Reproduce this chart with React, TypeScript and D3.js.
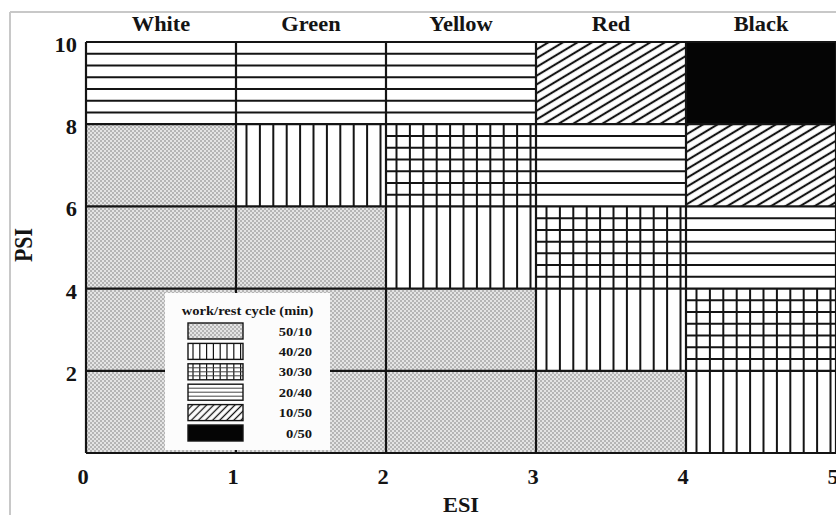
import React from "react";
import * as d3 from "d3";

// ---- data ----
const esiCategories = ["White", "Green", "Yellow", "Red", "Black"];
const xTicks = [0, 1, 2, 3, 4, 5];
const yTicks = [2, 4, 6, 8, 10];
const psiBandLow = [8, 6, 4, 2, 0];
const band8to10 = ["20/40", "20/40", "20/40", "10/50", "0/50"];
const band6to8 = ["50/10", "40/20", "30/30", "20/40", "10/50"];
const band4to6 = ["50/10", "50/10", "40/20", "30/30", "20/40"];
const band2to4 = ["50/10", "50/10", "50/10", "40/20", "30/30"];
const band0to2 = ["50/10", "50/10", "50/10", "50/10", "40/20"];
const bandCycles = [band8to10, band6to8, band4to6, band2to4, band0to2];
const cycleLabels = ["50/10", "40/20", "30/30", "20/40", "10/50", "0/50"];
const legendTitle = "work/rest cycle (min)";
const xTitle = "ESI";
const yTitle = "PSI";

// ---- layout ----
const W = 836;
const H = 515;
const INK = "#141414";
const FONT = "'Liberation Serif','Times New Roman',serif";
const SX = 1.12;

const x = d3.scaleLinear().domain([0, 5]).range([86, 836]);
const y = d3.scaleLinear().domain([0, 10]).range([453, 42]);

function T({ x: tx, y: ty, anchor = "middle", size = 20, children }: any) {
  return (
    <g transform={`translate(${tx},${ty}) scale(${SX},1)`}>
      <text textAnchor={anchor} fontSize={size} fontWeight="bold" fontFamily={FONT} fill={INK}>
        {children}
      </text>
    </g>
  );
}

function Fill({ cycle, x0, y0, x1, y1, small }: any) {
  const lw = small ? 1.2 : 2;
  const w = x1 - x0;
  const h = y1 - y0;
  const els: any[] = [];
  if (cycle === "50/10") {
    els.push(<rect key="b" x={x0} y={y0} width={w} height={h} fill="url(#stipple)" />);
  } else if (cycle === "0/50") {
    els.push(<rect key="b" x={x0} y={y0} width={w} height={h} fill="#050505" />);
  } else if (cycle === "10/50") {
    els.push(<rect key="b" x={x0} y={y0} width={w} height={h} fill={small ? "url(#diagSmall)" : "url(#diag)"} />);
  } else {
    els.push(<rect key="b" x={x0} y={y0} width={w} height={h} fill="#fff" />);
    if (cycle === "40/20" || cycle === "30/30") {
      const step = small ? 6.8 : 13.4;
      const off = small ? 5 : 10.5;
      d3.range(x0 + off, x1 - 1.5, step).forEach((vx, i) =>
        els.push(<line key={"v" + i} x1={vx} x2={vx} y1={y0} y2={y1} stroke={INK} strokeWidth={lw} />)
      );
    }
    if (cycle === "20/40" || cycle === "30/30") {
      const n = small ? 4 : 7;
      d3.range(1, n).forEach((k) => {
        const hy = y0 + (k * h) / n;
        els.push(
          <line key={"h" + k} x1={x0} x2={x1} y1={hy} y2={hy} stroke={small ? "#444" : INK} strokeWidth={small ? 1 : lw} />
        );
      });
    }
  }
  return <g>{els}</g>;
}

export default function App() {
  const legendX0 = 165;
  const legendX1 = 330;
  const legendY0 = 293;
  const legendY1 = 450;
  const swX0 = 188;
  const swW = 55;
  const swH = 16;
  const rowTop0 = 323;
  const rowPitch = 20.4;

  return (
    <svg
      width={W}
      height={H}
      style={{ position: "absolute", left: 0, top: 0, background: "#fff" }}
    >
      <defs>
        <pattern id="stipple" width={4} height={4} patternUnits="userSpaceOnUse">
          <rect width={4} height={4} fill="#e4e4e4" />
          <rect x={0} y={0} width={2} height={2} fill="#b5b5b5" />
          <rect x={2} y={2} width={2} height={2} fill="#b5b5b5" />
        </pattern>
        <pattern id="diag" width={12} height={7.5} patternUnits="userSpaceOnUse" patternTransform="rotate(-31)">
          <rect width={12} height={7.5} fill="#fff" />
          <line x1={0} x2={12} y1={3.75} y2={3.75} stroke={INK} strokeWidth={2.1} />
        </pattern>
        <pattern id="diagSmall" width={10} height={5} patternUnits="userSpaceOnUse" patternTransform="rotate(-45)">
          <rect width={10} height={5} fill="#fff" />
          <line x1={0} x2={10} y1={2.5} y2={2.5} stroke={INK} strokeWidth={1.3} />
        </pattern>
      </defs>

      {/* scan frame */}
      <line x1={10} x2={10} y1={12} y2={H} stroke="#c8c8c8" strokeWidth={2} />
      <line x1={10} x2={W} y1={12} y2={12} stroke="#c8c8c8" strokeWidth={2} />

      {/* cells */}
      {bandCycles.map((row, r) =>
        row.map((cycle, c) => (
          <Fill
            key={r + "-" + c}
            cycle={cycle}
            x0={x(c)}
            x1={x(c + 1)}
            y0={y(psiBandLow[r] + 2)}
            y1={y(psiBandLow[r])}
          />
        ))
      )}

      {/* grid */}
      {xTicks.map((t) => (
        <line key={"gx" + t} x1={x(t)} x2={x(t)} y1={y(10)} y2={y(0)} stroke={INK} strokeWidth={2.2} />
      ))}
      {[0, ...yTicks].map((t) => (
        <line key={"gy" + t} x1={x(0)} x2={x(5)} y1={y(t)} y2={y(t)} stroke={INK} strokeWidth={2.2} />
      ))}

      {/* legend */}
      <rect x={legendX0} y={legendY0} width={legendX1 - legendX0} height={legendY1 - legendY0} fill="#fcfcfc" />
      <T x={(legendX0 + legendX1) / 2} y={legendY0 + 22} size={13}>
        {legendTitle}
      </T>
      {cycleLabels.map((lab, i) => {
        const top = rowTop0 + i * rowPitch;
        return (
          <g key={lab}>
            <Fill cycle={lab} x0={swX0} x1={swX0 + swW} y0={top} y1={top + swH} small />
            <rect x={swX0} y={top} width={swW} height={swH} fill="none" stroke={INK} strokeWidth={1.4} />
            <T x={312} y={top + swH / 2 + 4.5} anchor="end" size={13}>
              {lab}
            </T>
          </g>
        );
      })}

      {/* column headers */}
      {esiCategories.map((name, i) => (
        <T key={name} x={x(i + 0.5)} y={31}>
          {name}
        </T>
      ))}

      {/* y ticks */}
      {yTicks.map((t) => (
        <T key={"yt" + t} x={77} y={y(t) + 10} anchor="end">
          {t}
        </T>
      ))}
      {/* x ticks */}
      {xTicks.map((t) => (
        <T key={"xt" + t} x={x(t) - 3} y={484}>
          {t}
        </T>
      ))}

      {/* axis titles */}
      <T x={x(2.5)} y={512} size={20}>
        {xTitle}
      </T>
      <g transform={`translate(32,245) scale(${SX},1) rotate(-90)`}>
        <text textAnchor="middle" fontSize={22} fontWeight="bold" fontFamily={FONT} fill={INK}>
          {yTitle}
        </text>
      </g>
    </svg>
  );
}
